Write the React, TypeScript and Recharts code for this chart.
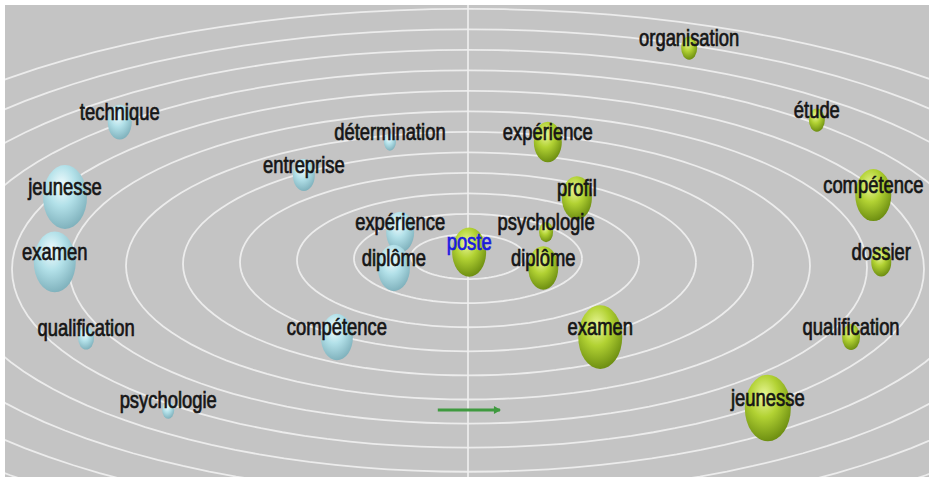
import React from 'react';
import { ScatterChart, Scatter, XAxis, YAxis } from 'recharts';

// Left group (light blue spheres)
const leftTerms = ['technique', 'jeunesse', 'examen', 'qualification', 'psychologie', 'détermination', 'entreprise', 'expérience', 'diplôme', 'compétence'];
const leftX = [-6.11, -7.07, -7.25, -6.7, -5.26, -1.37, -2.88, -1.19, -1.3, -2.3];
const leftY = [5.96, 2.6, -0.31, -3.72, -6.95, 5.07, 3.59, 1.03, -0.58, -3.68];
const leftWeight = [24, 44, 42, 16, 12, 12, 22, 28, 32, 32];

// Right group (yellow-green spheres)
const rightTerms = ['organisation', 'étude', 'expérience', 'profil', 'compétence', 'psychologie', 'diplôme', 'dossier', 'examen', 'qualification', 'jeunesse'];
const rightX = [3.88, 6.12, 1.4, 1.91, 7.11, 1.37, 1.32, 7.25, 2.32, 6.72, 5.26];
const rightY = [9.28, 6.05, 5.07, 2.56, 2.69, 1.03, -0.58, -0.31, -3.68, -3.68, -6.86];
const rightWeight = [16, 16, 28, 30, 36, 14, 30, 20, 44, 18, 46];

// Pivot term
const pivotTerms = ['poste'];
const pivotX = [0.02];
const pivotY = [0.13];
const pivotWeight = [34];

// Concentric rings (radius, downward centre shift from perspective)
const ringRadii = [1, 2, 3, 4, 5, 6, 7, 8, 9, 10, 11, 12];
const ringShift = 0.08;

// Arrow
const arrowX = [-0.53, 0.56];
const arrowY = [-6.95, -6.95];

const X_DOMAIN: [number, number] = [-8.1228, 8.0877];
const Y_DOMAIN: [number, number] = [-9.9552, 11.2108];

const build = (terms: string[], xs: number[], ys: number[], ws: number[]) =>
  terms.map((name, i) => ({ name, x: xs[i], y: ys[i], w: ws[i] }));

const leftData = build(leftTerms, leftX, leftY, leftWeight);
const rightData = build(rightTerms, rightX, rightY, rightWeight);
const pivotData = build(pivotTerms, pivotX, pivotY, pivotWeight);

const ringData = ringRadii.map((k) => {
  const pts: { x: number; y: number }[] = [];
  for (let d = 0; d <= 360; d += 3) {
    const t = (d * Math.PI) / 180;
    pts.push({ x: k * Math.cos(t), y: k * Math.sin(t) - ringShift * k });
  }
  return pts;
});

const axisData = [
  { x: 0, y: Y_DOMAIN[0] },
  { x: 0, y: Y_DOMAIN[1] },
];
const arrowData = arrowX.map((x, i) => ({ x, y: arrowY[i] }));

const palettes: Record<string, [string, string, string]> = {
  blue: ['#f2fcfe', '#b3e1e9', '#7eb0bb'],
  green: ['#eaf79a', '#b2d233', '#6b8c10'],
};

const makeBubble = (kind: string) => (props: any) => {
  const { cx, cy, payload, index } = props;
  if (cx == null || cy == null) return <g />;
  const rx = payload.w / 2;
  const ry = rx * 1.45;
  const id = `grad-${kind}-${payload.name}-${index}`;
  const [hi, mid, lo] = palettes[kind];
  return (
    <g>
      <defs>
        <radialGradient id={id} cx="42%" cy="32%" r="70%">
          <stop offset="0%" stopColor={hi} />
          <stop offset="45%" stopColor={mid} />
          <stop offset="100%" stopColor={lo} />
        </radialGradient>
      </defs>
      <ellipse cx={cx} cy={cy} rx={rx} ry={ry} fill={`url(#${id})`} />
    </g>
  );
};

const makeLabel = (color: string) => (props: any) => {
  const { cx, cy, payload } = props;
  if (cx == null || cy == null) return <g />;
  return (
    <text
      transform={`translate(${cx} ${cy - 2}) scale(0.8 1)`}
      x={0}
      y={0}
      textAnchor="middle"
      fontFamily="'Liberation Sans', Arial, sans-serif"
      fontSize={23}
      fill={color}
      stroke={color}
      strokeWidth={0.7}
    >
      {payload.name}
    </text>
  );
};

const Nothing = () => <g />;

const ArrowHead = (props: any) => {
  const { cx, cy, index } = props;
  if (index !== 1 || cx == null) return <g />;
  return <path d={`M${cx - 6},${cy - 4} L${cx + 1},${cy} L${cx - 6},${cy + 4} Z`} fill="#3f9a3f" />;
};

export default function App() {
  return (
    <div style={{ position: 'absolute', left: 0, top: 0, width: 934, height: 482, background: '#ffffff' }}>
      <div style={{ position: 'absolute', left: 5, top: 5, width: 924, height: 472, background: '#c4c4c4' }}>
        <ScatterChart width={924} height={472} margin={{ top: 0, right: 0, bottom: 0, left: 0 }}>
          <XAxis type="number" dataKey="x" domain={X_DOMAIN} allowDataOverflow hide />
          <YAxis type="number" dataKey="y" domain={Y_DOMAIN} allowDataOverflow hide />
          {ringData.map((pts, i) => (
            <Scatter
              key={`ring-${i}`}
              data={pts}
              line={{ stroke: '#ececec', strokeWidth: 1.8 }}
              shape={Nothing}
              isAnimationActive={false}
              legendType="none"
            />
          ))}
          <Scatter data={axisData} line={{ stroke: '#f0f0f0', strokeWidth: 1.6 }} shape={Nothing} isAnimationActive={false} />
          <Scatter data={arrowData} line={{ stroke: '#3f9a3f', strokeWidth: 3 }} shape={ArrowHead} isAnimationActive={false} />
          <Scatter data={leftData} shape={makeBubble('blue')} isAnimationActive={false} />
          <Scatter data={rightData} shape={makeBubble('green')} isAnimationActive={false} />
          <Scatter data={pivotData} shape={makeBubble('green')} isAnimationActive={false} />
          <Scatter data={leftData} shape={makeLabel('#151515')} isAnimationActive={false} />
          <Scatter data={rightData} shape={makeLabel('#151515')} isAnimationActive={false} />
          <Scatter data={pivotData} shape={makeLabel('#1a1ae0')} isAnimationActive={false} />
        </ScatterChart>
      </div>
    </div>
  );
}
